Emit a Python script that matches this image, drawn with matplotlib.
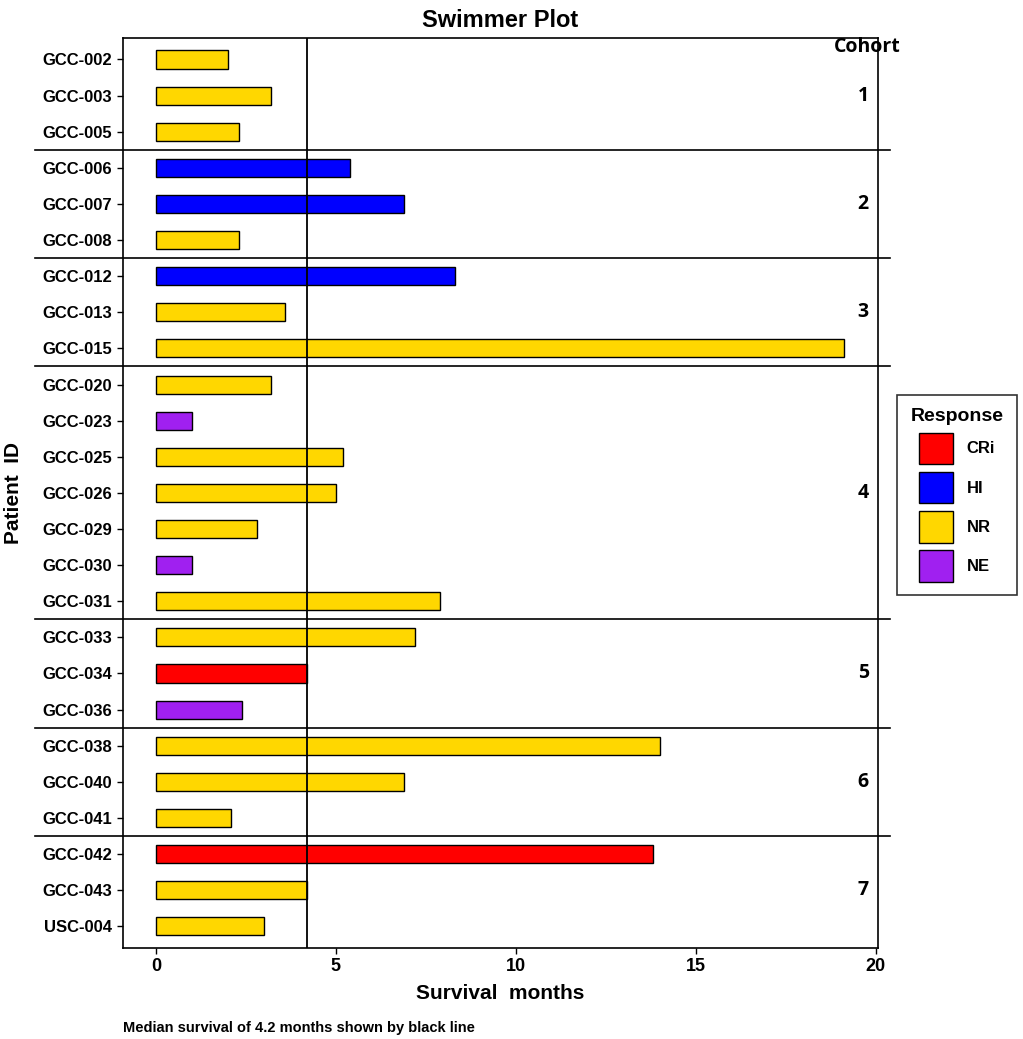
import matplotlib
matplotlib.use("Agg")
import matplotlib.pyplot as plt
from matplotlib.patches import Patch

patients = ["GCC-002", "GCC-003", "GCC-005", "GCC-006", "GCC-007", "GCC-008",
            "GCC-012", "GCC-013", "GCC-015", "GCC-020", "GCC-023", "GCC-025",
            "GCC-026", "GCC-029", "GCC-030", "GCC-031", "GCC-033", "GCC-034",
            "GCC-036", "GCC-038", "GCC-040", "GCC-041", "GCC-042", "GCC-043",
            "USC-004"]
months = [2.0, 3.2, 2.3, 5.4, 6.9, 2.3, 8.3, 3.6, 19.1, 3.2, 1.0, 5.2, 5.0,
          2.8, 1.0, 7.9, 7.2, 4.2, 2.4, 14.0, 6.9, 2.1, 13.8, 4.2, 3.0]
response = ["NR", "NR", "NR", "HI", "HI", "NR", "HI", "NR", "NR", "NR", "NE",
            "NR", "NR", "NR", "NE", "NR", "NR", "CRi", "NE", "NR", "NR", "NR",
            "CRi", "NR", "NR"]
cohort_sizes = [3, 3, 3, 7, 3, 3, 3]
cohort_names = ["1", "2", "3", "4", "5", "6", "7"]
median_survival = 4.2

colors = {"CRi": "#FF0000", "HI": "#0000FF", "NR": "#FFD700", "NE": "#A020F0"}

plt.rcParams['font.family'] = ['Liberation Sans', 'DejaVu Sans']

fig = plt.figure(figsize=(10.23, 10.39), dpi=100)
ax = fig.add_axes([0.120, 0.0876, 0.738, 0.876])

y = list(range(len(patients)))
ax.barh(y, months, height=0.5, color=[colors[r] for r in response],
        edgecolor="black", linewidth=1.0)
ax.axvline(median_survival, color="black", linewidth=1.3)

ax.set_xlim(-0.92, 20.05)
ax.set_ylim(len(patients) - 0.4, -0.6)
ax.set_yticks(y)
ax.set_yticklabels(patients, fontsize=12, fontweight="bold")
ax.set_xticks([0, 5, 10, 15, 20])
ax.set_xticklabels(["0", "5", "10", "15", "20"], fontsize=13, fontweight="bold")
ax.tick_params(axis="both", length=4, width=1)
for s in ax.spines.values():
    s.set_linewidth(1.2)

# cohort separators and labels
start = 0
for i, n in enumerate(cohort_sizes):
    mid = start + (n - 1) / 2
    ax.text(19.8, mid, cohort_names[i], ha="right", va="center",
            fontsize=14, fontweight="bold", family=["Open Sans", "DejaVu Sans"])
    start += n
    if i < len(cohort_sizes) - 1:
        ax.plot([-3.36, 20.39], [start - 0.5, start - 0.5], color="black",
                linewidth=1.2, clip_on=False)
ax.text(19.75, -0.35, "Cohort", ha="center", va="center", fontsize=14,
        fontweight="bold", family=["Open Sans", "DejaVu Sans"])

ax.set_title("Swimmer Plot", fontsize=17, fontweight="bold", pad=8)
ax.set_xlabel("Survival  months", fontsize=15, fontweight="bold", labelpad=6)
ax.set_ylabel("Patient  ID", fontsize=15, fontweight="bold", labelpad=14)

handles = [Patch(facecolor=colors[k], edgecolor="black", label=k)
           for k in ["CRi", "HI", "NR", "NE"]]
leg = fig.legend(handles=handles, title="Response", loc="center left",
                 bbox_to_anchor=(0.874, 0.5236), frameon=True, fancybox=False,
                 edgecolor="black", handlelength=2.05, handleheight=2.55,
                 labelspacing=0.45, borderpad=0.8, handletextpad=0.8,
                 borderaxespad=0.2,
                 prop={"weight": "bold", "size": 12},
                 title_fontproperties={"weight": "bold", "size": 14})
leg.get_frame().set_linewidth(1.2)

fig.text(0.120, 0.007, "Median survival of 4.2 months shown by black line",
         fontsize=10.5, fontweight="bold", ha="left")

fig.savefig("out.png", dpi=100)
